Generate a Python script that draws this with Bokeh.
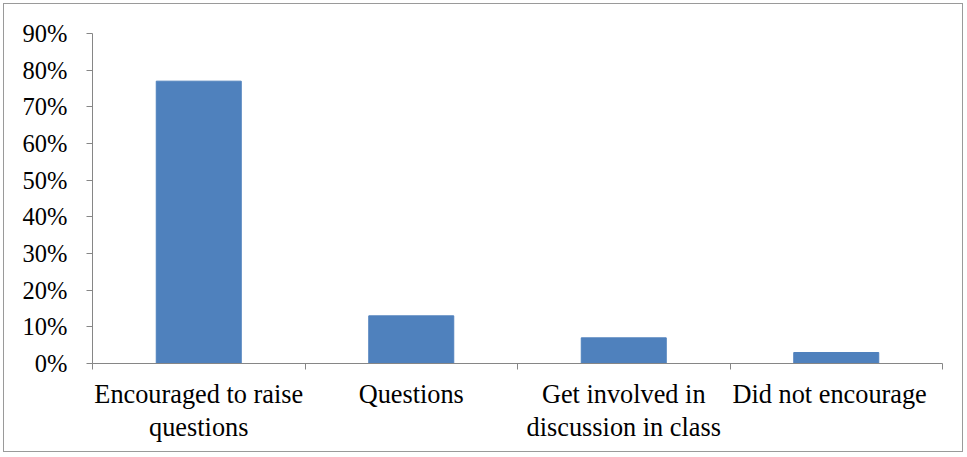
from bokeh.plotting import figure
from bokeh.models import (ColumnDataSource, FixedTicker, NumeralTickFormatter,
                          Range1d)
from bokeh.embed import file_html
from bokeh.resources import INLINE

categories = ["Encouraged to raise\nquestions", "Questions",
              "Get involved in\ndiscussion in class", "Did not encourage"]
values = [0.77, 0.13, 0.07, 0.03]
y_ticks = [0, 0.1, 0.2, 0.3, 0.4, 0.5, 0.6, 0.7, 0.8, 0.9]

FONT = "Liberation Serif"
AXIS_COLOR = "#868686"

centers = [i + 0.5 for i in range(len(categories))]
source = ColumnDataSource(dict(x=centers, top=values))

p = figure(width=960, height=449, output_backend="svg", toolbar_location=None,
           x_range=Range1d(0, len(categories)), y_range=Range1d(0, 0.9),
           min_border_left=88, min_border_right=22, min_border_top=29,
           min_border_bottom=90, margin=(3, 3, 3, 3))
p.styles = {"border": "1px solid #9a9a9a"}
p.outline_line_color = None
p.xgrid.grid_line_color = None
p.ygrid.grid_line_color = None
p.background_fill_color = "white"
p.border_fill_color = "white"

p.vbar(x="x", top="top", width=0.4, source=source, fill_color="#4F81BD",
       line_color="#4F81BD")

# y axis
ya = p.yaxis[0]
ya.ticker = FixedTicker(ticks=y_ticks, minor_ticks=[])
ya.formatter = NumeralTickFormatter(format="0%")
ya.axis_line_color = AXIS_COLOR
ya.major_tick_line_color = AXIS_COLOR
ya.major_tick_out = 6
ya.major_tick_in = 0
ya.minor_tick_line_color = None
ya.major_label_text_font = FONT
ya.major_label_text_font_size = "24.5px"
ya.major_label_text_color = "black"
ya.major_label_standoff = 19

# x axis: labels at centers, tick marks at boundaries (minor ticks)
labels = list(categories)
labels[-1] = labels[-1] + "\u00a0\u00a0"  # last label sits slightly left, as in the original
xa = p.xaxis[0]
xa.ticker = FixedTicker(ticks=centers,
                        minor_ticks=list(range(len(categories) + 1)))
xa.major_label_overrides = {c: lab for c, lab in zip(centers, labels)}
xa.axis_line_color = AXIS_COLOR
xa.major_tick_line_color = None
xa.major_tick_out = 0
xa.major_tick_in = 0
xa.minor_tick_line_color = AXIS_COLOR
xa.minor_tick_out = 6
xa.minor_tick_in = 0
xa.major_label_text_font = FONT
xa.major_label_text_font_size = "26.3px"
xa.major_label_text_line_height = 1.14
xa.major_label_text_color = "black"
xa.major_label_standoff = 10

open("out.html", "w").write(file_html(p, INLINE))
